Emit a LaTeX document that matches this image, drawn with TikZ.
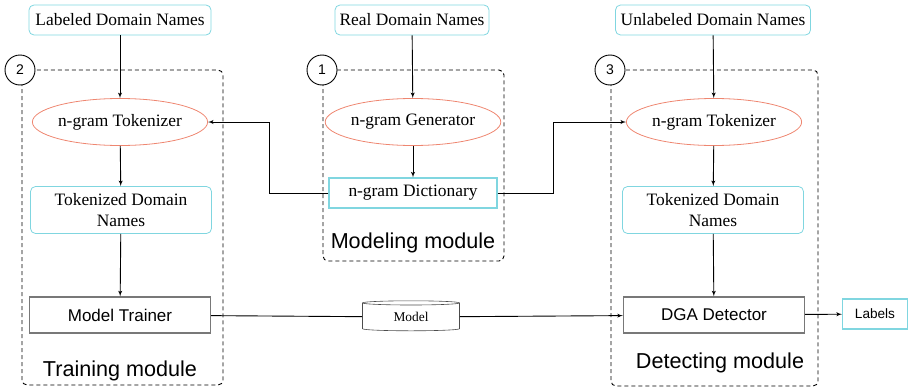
\documentclass[tikz,border=0pt]{standalone}
\usepackage{fontspec}
\setmainfont{Liberation Serif}
\setsansfont{Liberation Sans}
\usetikzlibrary{shapes.geometric, arrows}
\definecolor{srccyan}{RGB}{128,214,224}
\definecolor{ovalred}{RGB}{238,134,112}
\definecolor{trainergray}{RGB}{120,120,120}

\begin{document}
\begin{tikzpicture}[->,>=latex',x=1pt,y=-1pt,line width=0.9pt]
		\tikzstyle{src}=[draw=srccyan,line width=0.8pt,rounded corners=5pt,inner sep=0pt,font=\fontsize{17.4}{21}\selectfont]
		\tikzstyle{oval}=[ellipse,draw=ovalred,line width=0.8pt,minimum width=171pt,minimum height=47pt,inner sep=0pt,font=\fontsize{17.4}{21}\selectfont]
		\tikzstyle{proc}=[draw=trainergray,line width=1.4pt,minimum width=181pt,minimum height=36pt,inner sep=0pt,font=\sffamily\fontsize{17}{20}\selectfont]
		\tikzstyle{num}=[circle,draw=black,fill=white,line width=0.9pt,minimum size=30pt,inner sep=0pt,font=\sffamily\fontsize{14}{16}\selectfont]
		\tikzstyle{module}=[font=\sffamily\fontsize{21.6}{24}\selectfont]
		\tikzstyle{group}=[-,draw=black,dash pattern=on 4pt off 3pt,rounded corners=5pt]
		\useasboundingbox (0,0) rectangle (909,388);
		% dashed module frames
		\draw[group] (22,70) rectangle (223,385);
		\draw[group] (323,70) rectangle (504,261);
		\draw[group] (611,70) rectangle (818,386);
		\node[num] (N2) at (20,70) {2};
		\node[num] (N1) at (322,70) {1};
		\node[num] (N3) at (610,70) {3};
		% inputs
		\node[src,minimum width=182pt,minimum height=30pt] (LD) at (120,20) {Labeled Domain Names};
		\node[src,minimum width=154pt,minimum height=30pt] (RD) at (412,20) {Real Domain Names};
		\node[src,minimum width=195pt,minimum height=30pt] (UD) at (713,20) {Unlabeled Domain Names};
		% modeling module
		\node[oval] (GEN) at (413,122) {n-gram Generator};
		\node[src,rounded corners=0pt,line width=1.1pt,minimum width=168pt,minimum height=30pt] (DIC) at (413,193) {n-gram Dictionary};
		\node[module] (MM) at (413,243) {Modeling module};
		% training module
		\node[oval] (TKL) at (120,122) {n-gram Tokenizer};
		\node[src,align=center,minimum width=181pt,minimum height=47pt] (TDL) at (121,210) {Tokenized Domain\\Names};
		\node[proc] (MT) at (120,315) {Model Trainer};
		\node[module] (TM) at (120,371) {Training module};
		% detecting module
		\node[oval] (TKR) at (714,122) {n-gram Tokenizer};
		\node[src,align=center,minimum width=181pt,minimum height=47pt] (TDR) at (713,210) {Tokenized Domain\\Names};
		\node[proc] (DGA) at (714,315) {DGA Detector};
		\node[module] (DM) at (720,363) {Detecting module};
		% outputs
		\node[cylinder,draw=black!70,line width=0.6pt,shape border rotate=90,aspect=0.12,minimum width=97pt,minimum height=30pt,inner sep=0pt,font=\fontsize{13.4}{16}\selectfont] (MOD) at (411,317) {Model};
		\node[draw=srccyan,line width=1.1pt,minimum width=65pt,minimum height=30pt,inner sep=0pt,font=\sffamily\fontsize{13.6}{16}\selectfont] (LB) at (875,314) {Labels};
		\path
		(LD) edge (TKL)
		(TKL) edge (TDL)
		(TDL) edge (MT)
		(RD) edge (GEN)
		(GEN) edge (DIC)
		(UD) edge (TKR)
		(TKR) edge (TDR)
		(TDR) edge (DGA)
		(MT) edge[-] (MOD)
		(MOD) edge (DGA)
		(DGA) edge (LB);
		\draw (DIC.west) -- ++(-59,0) |- (TKL.east);
		\draw (DIC.east) -- ++(56,0) |- (TKR.west);
	\end{tikzpicture}
\end{document}
